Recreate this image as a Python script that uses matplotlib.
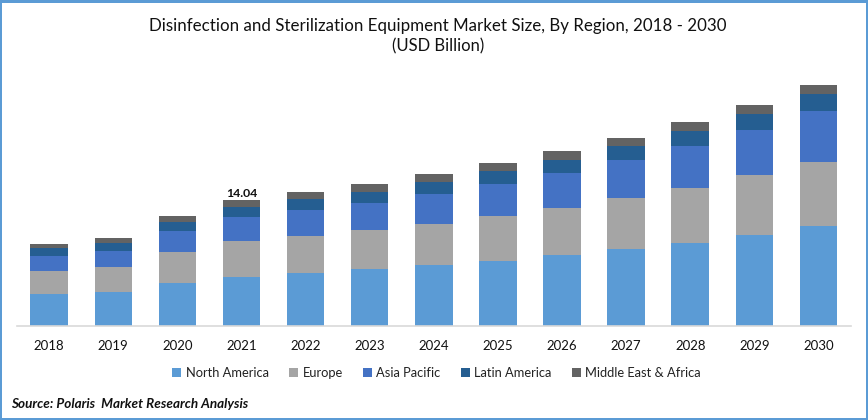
import matplotlib
matplotlib.use("Agg")
import matplotlib.pyplot as plt
import numpy as np
from matplotlib.patches import Rectangle

years = ['2018', '2019', '2020', '2021', '2022', '2023', '2024', '2025', '2026', '2027', '2028', '2029', '2030']
north_america = [3.57, 3.79, 4.79, 5.46, 5.91, 6.35, 6.80, 7.25, 7.92, 8.58, 9.25, 10.14, 11.15]
europe = [2.56, 2.79, 3.46, 4.01, 4.12, 4.35, 4.57, 5.02, 5.24, 5.69, 6.13, 6.69, 7.13]
asia_pacific = [1.67, 1.78, 2.34, 2.68, 2.90, 3.01, 3.34, 3.57, 3.90, 4.24, 4.68, 5.02, 5.69]
latin_america = [0.89, 0.89, 1.00, 1.11, 1.23, 1.23, 1.34, 1.45, 1.45, 1.56, 1.67, 1.78, 1.90]
middle_east = [0.45, 0.56, 0.67, 0.78, 0.78, 0.89, 0.89, 0.89, 1.00, 0.89, 1.00, 1.00, 1.00]

series = [
    ('North America', north_america, '#5b9bd5'),
    ('Europe', europe, '#a5a5a5'),
    ('Asia Pacific', asia_pacific, '#4472c4'),
    ('Latin America', latin_america, '#255e91'),
    ('Middle East & Africa', middle_east, '#636363'),
]

plt.rcParams['font.family'] = ['Lato', 'DejaVu Sans']

W, H = 868, 420
fig = plt.figure(figsize=(W / 100, H / 100), dpi=100, facecolor='white')
ax = fig.add_axes([17 / W, 1 - 326 / H, (851 - 17) / W, (326 - 70) / H])

x = np.arange(len(years))
bottom = np.zeros(len(years))
for name, values, color in series:
    ax.bar(x, values, width=0.585, bottom=bottom, color=color, label=name, linewidth=0)
    bottom = bottom + np.array(values)

ax.set_xlim(-0.502, 12.508)
ax.set_ylim(0, 256 / 8.97)
ax.set_yticks([])
ax.set_xticks(x)
ax.set_xticklabels(years, fontsize=9.5, color='#111111')
ax.tick_params(axis='x', length=0, pad=10)
for s in ['top', 'left', 'right']:
    ax.spines[s].set_visible(False)
ax.spines['bottom'].set_color('#d9d9d9')
ax.spines['bottom'].set_linewidth(1.2)

# label only on 2021 like the original
ax.text(x[3], bottom[3] + 0.1, '14.04', ha='center', va='bottom', fontsize=8.8, fontweight='bold', color='#111111')

fig.text(438 / W, 1 - 26 / H, 'Disinfection and Sterilization Equipment Market Size, By Region, 2018 - 2030',
         ha='center', va='center', fontsize=12.15, color='#111111')
fig.text(438 / W, 1 - 46 / H, '(USD Billion)', ha='center', va='center', fontsize=12, color='#111111')

fig.legend(loc='center', bbox_to_anchor=(436.5 / W, 1 - 373 / H), ncol=5, frameon=False, fontsize=9.3,
           handlelength=0.7, handleheight=0.7, handletextpad=0.35, columnspacing=1.55, labelcolor='#222222')

fig.text(11 / W, 1 - 404 / H, 'Source: Polaris  Market Research Analysis', ha='left', va='center',
         fontsize=9.75, fontweight='bold', fontstyle='italic', color='#111111')

# blue frame around the picture
frame = '#5b9bd5'
fig.add_artist(Rectangle((0, 1 - 3 / H), 1, 3 / H, transform=fig.transFigure, color=frame, lw=0))
fig.add_artist(Rectangle((0, 0), 1, 2 / H, transform=fig.transFigure, color=frame, lw=0))
fig.add_artist(Rectangle((0, 0), 2 / W, 1, transform=fig.transFigure, color=frame, lw=0))
fig.add_artist(Rectangle((1 - 2 / W, 0), 2 / W, 1, transform=fig.transFigure, color=frame, lw=0))

fig.savefig('out.png', dpi=100)
